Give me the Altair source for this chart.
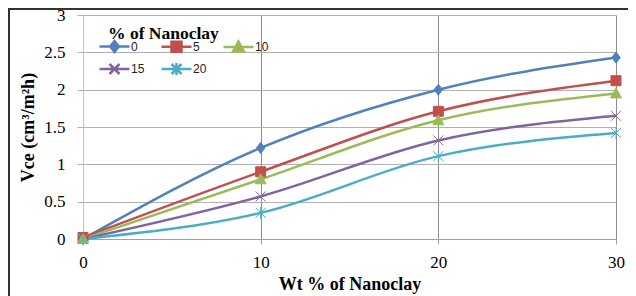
import altair as alt
import pandas as pd

# ---- data ----
wt = [0, 10, 20, 30]
series_names = ["0", "5", "10", "15", "20"]
vce_0 = [0.0, 1.22, 2.0, 2.43]
vce_5 = [0.02, 0.90, 1.71, 2.12]
vce_10 = [0.0, 0.80, 1.59, 1.95]
vce_15 = [0.0, 0.57, 1.32, 1.65]
vce_20 = [0.0, 0.35, 1.11, 1.42]
y_ticks = [0, 0.5, 1, 1.5, 2, 2.5, 3]

colors = ["#4F81BD", "#C0504D", "#9BBB59", "#8064A2", "#4BACC6"]
marker_paths = [
    "M0,-1.1L0.85,0L0,1.1L-0.85,0Z",
    "M-1,-1H1V1H-1Z",
    "M0,-1.1L1.1,0.9H-1.1Z",
    "M-1,-1L1,1M-1,1L1,-1",
    "M-1,-1L1,1M-1,1L1,-1M0,-1.2V1.2",
]
legend_paths = ["M-3,0H3" + p for p in marker_paths]

rows = []
for name, vals in zip(series_names, [vce_0, vce_5, vce_10, vce_15, vce_20]):
    for x, y in zip(wt, vals):
        rows.append({"wt": x, "vce": y, "series": name})
df = pd.DataFrame(rows)

SERIF = "Liberation Serif"
SANS = "Liberation Sans"

x_axis = alt.Axis(values=wt, title="Wt % of Nanoclay", format="d",
                  gridColor="#8c8c8c", domainColor="#a0a0a0", tickColor="#a0a0a0",
                  tickSize=5, labelPadding=10, titlePadding=5, labelFlush=False)
y_axis = alt.Axis(values=y_ticks, title="Vce (cm³/m²h)", format="~g",
                  gridColor="#b0b0b0", domainColor="#c0c0c0", tickColor="#b0b0b0",
                  tickSize=6, labelPadding=12, titlePadding=6, labelFlush=False)
x_enc = alt.X("wt:Q", scale=alt.Scale(domain=[0, 30], nice=False), axis=x_axis)
y_enc = alt.Y("vce:Q", scale=alt.Scale(domain=[0, 3], nice=False), axis=y_axis)

legend_props = dict(
    orient="none", legendX=25, legendY=10, columns=3, direction="horizontal",
    title="\u00a0\u00a0\u00a0\u00a0\u00a0% of Nanoclay", titleFont=SERIF, titleFontSize=17.5,
    titleFontWeight="bold", titleColor="black", titlePadding=-3,
    labelFont=SANS, labelFontSize=12, labelColor="#222222", labelOffset=10,
    symbolSize=100, symbolStrokeWidth=2.5, columnPadding=11, rowPadding=0,
    gridAlign="all", padding=0, symbolOpacity=1,
)

base = alt.Chart(df)

line_layers = []
marker_layers = []
for name, col, path in zip(series_names, colors, marker_paths):
    sub = base.transform_filter(alt.datum.series == name)
    line_layers.append(
        sub.mark_line(interpolate="monotone", strokeWidth=2.5, color=col)
        .encode(x=x_enc, y=y_enc)
    )
    marker_layers.append(
        sub.mark_point(shape=path, filled=True, size=100, fill=col, stroke=col,
                       strokeWidth=1, opacity=1)
        .encode(x=x_enc, y=y_enc)
    )

# invisible layer that only supplies the legend (colours + line/marker symbols)
legend_layer = base.mark_point(filled=True, size=100, opacity=0).encode(
    x=x_enc,
    y=y_enc,
    fill=alt.Fill("series:N", scale=alt.Scale(domain=series_names, range=colors),
                  legend=alt.Legend(**legend_props)),
    stroke=alt.Stroke("series:N", scale=alt.Scale(domain=series_names, range=colors),
                      legend=alt.Legend(**legend_props)),
    shape=alt.Shape("series:N", scale=alt.Scale(domain=series_names, range=legend_paths),
                    legend=alt.Legend(**legend_props)),
)

frame_top = base.mark_rule(color="#333333", strokeWidth=1.5).encode(
    x=alt.value(-75), x2=alt.value(545), y=alt.value(-6.2)
)
frame_left = base.mark_rule(color="#333333", strokeWidth=1.5).encode(
    x=alt.value(-74.2), y=alt.value(-7), y2=alt.value(282)
)

chart = (
    alt.layer(*line_layers, *marker_layers, legend_layer, frame_top, frame_left)
    .properties(width=533, height=224,
                autosize=alt.AutoSizeParams(type="none"),
                padding={"left": 75, "top": 7, "right": 12, "bottom": 57})
    .configure_view(strokeWidth=0)
    .configure_axis(
        labelFont=SERIF, labelFontSize=17, labelColor="black",
        titleFont=SERIF, titleFontSize=18, titleFontWeight="bold", titleColor="black",
        grid=True,
    )
)

chart.save("out.html", embed_options={"renderer": "svg", "actions": False})
